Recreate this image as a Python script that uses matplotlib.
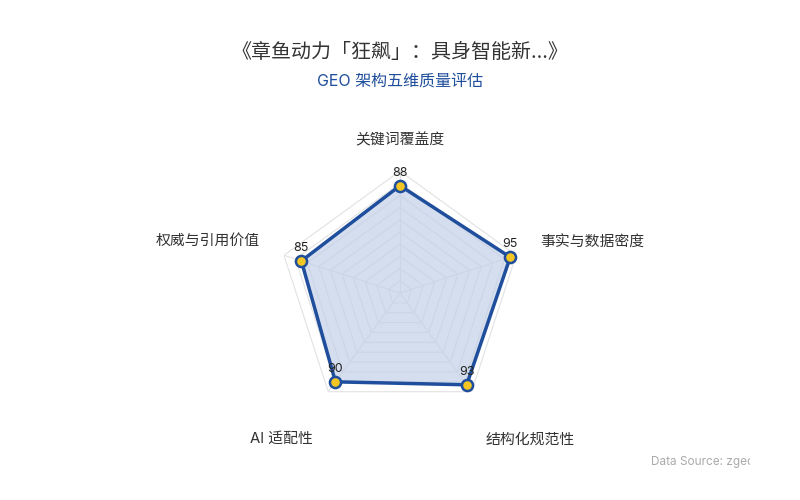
import numpy as np
import matplotlib
matplotlib.use("Agg")
import matplotlib.pyplot as plt
from matplotlib.transforms import Bbox

plt.rcParams['font.family'] = ['Inter', 'Noto Sans CJK SC', 'DejaVu Sans']

title = "《章鱼动力「狂飙」：具身智能新...》"
subtitle = "GEO 架构五维质量评估"
source = "Data Source: zgeo"

dims = ["关键词覆盖度", "事实与数据密度", "结构化规范性", "AI 适配性", "权威与引用价值"]
scores = [88, 95, 93, 90, 85]
rmax = 100
levels = [10, 20, 30, 40, 50, 60, 70, 80, 90, 100]

# label offsets in pixels from the outer vertex, and alignment
name_off = [(0, 31), (24, 13), (14, -48), (-15, -47), (-24, 15)]
name_ha = ["center", "left", "left", "right", "right"]

line_c = "#1f4e9c"
fill_c = "#c3d0e8"
dot_c = "#f3c623"
grid_c = "#e2e2e2"

fig = plt.figure(figsize=(8, 5), dpi=100)
cx, cy, rad = 400 / 800, 1 - 293 / 500, 122
ax = fig.add_axes([cx - rad / 800, cy - rad / 500, 2 * rad / 800, 2 * rad / 500],
                  projection="polar")
ax.set_theta_offset(np.pi / 2)
ax.set_theta_direction(-1)
ax.set_ylim(0, rmax)
ax.grid(False)
ax.spines["polar"].set_visible(False)
ax.set_xticks([])
ax.set_yticks([])
ax.patch.set_alpha(0)

n = len(dims)
theta = np.arange(n) * 2 * np.pi / n
tc = np.append(theta, theta[0])

# polygon grid + spokes
for lv in levels:
    ax.plot(tc, [lv] * (n + 1), color=grid_c, lw=0.8, zorder=1)
for t in theta:
    ax.plot([t, t], [0, rmax], color=grid_c, lw=0.8, zorder=1)

vals = scores + scores[:1]
ax.fill(tc, vals, color=fill_c, alpha=0.7, zorder=2)
ax.plot(tc, vals, color=line_c, lw=2.5, zorder=3)
ax.plot(theta, scores, 'o', ms=8, mfc=dot_c, mec=line_c, mew=1.8, zorder=4, clip_on=False)

for t, v in zip(theta, scores):
    ax.annotate(str(v), (t, v), xytext=(0, 7), textcoords="offset pixels",
                ha="center", va="bottom", fontsize=9, color="#222222", zorder=5,
                annotation_clip=False)

for t, name, off, ha in zip(theta, dims, name_off, name_ha):
    ax.annotate(name, (t, rmax), xytext=off, textcoords="offset pixels",
                ha=ha, va="center", fontsize=10.7, color="#333333",
                annotation_clip=False)

fig.text(0.5, 1 - 52 / 500, title, ha="center", va="center", fontsize=14.4, color="#333333")
fig.text(0.5, 1 - 81 / 500, subtitle, ha="center", va="center", fontsize=11.5, color=line_c)

src = fig.text(651 / 800, 1 - 462 / 500, source, ha="left", va="center",
               fontsize=8.5, color="#aaaaaa")
src.set_clip_box(Bbox([[0, 0], [750, 500]]))
src.set_clip_on(True)

fig.savefig("out.png", dpi=100, facecolor="white")
